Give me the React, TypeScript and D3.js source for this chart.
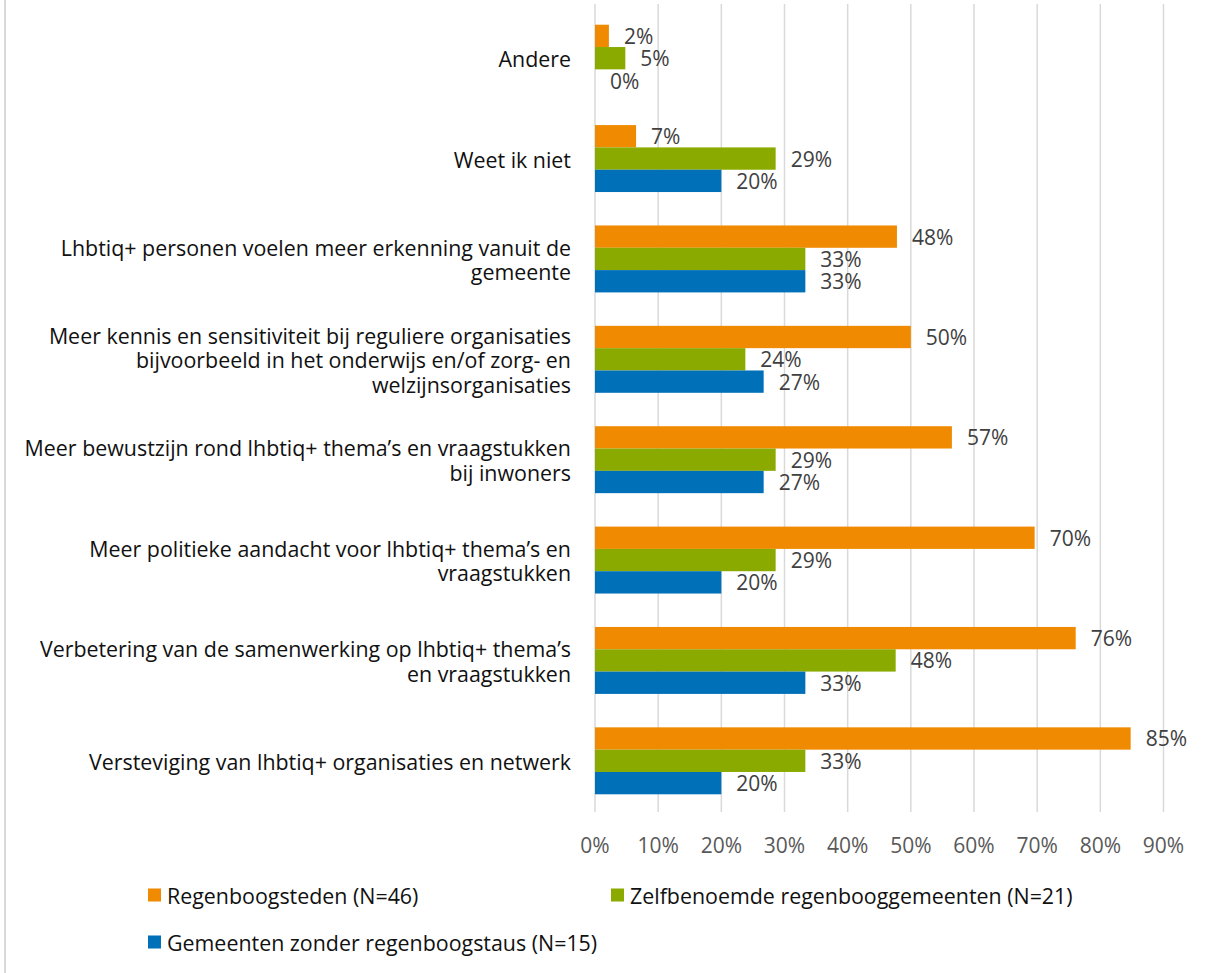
import React from "react";
import * as d3 from "d3";

const categories: string[][] = [
  ["Andere"],
  ["Weet ik niet"],
  ["Lhbtiq+ personen voelen meer erkenning vanuit de", "gemeente"],
  ["Meer kennis en sensitiviteit bij reguliere organisaties", "bijvoorbeeld in het onderwijs en/of zorg- en", "welzijnsorganisaties"],
  ["Meer bewustzijn rond lhbtiq+ thema’s en vraagstukken", "bij inwoners"],
  ["Meer politieke aandacht voor lhbtiq+ thema’s en", "vraagstukken"],
  ["Verbetering van de samenwerking op lhbtiq+ thema’s", "en vraagstukken"],
  ["Versteviging van lhbtiq+ organisaties en netwerk"],
];

const seriesNames = [
  "Regenboogsteden (N=46)",
  "Zelfbenoemde regenbooggemeenten (N=21)",
  "Gemeenten zonder regenboogstaus (N=15)",
];
const seriesColors = ["#F08A00", "#8AAA00", "#0070B8"];

const regenboogsteden = [2.2, 6.5, 47.8, 50.0, 56.5, 69.6, 76.1, 84.8];
const zelfbenoemd = [4.8, 28.6, 33.3, 23.8, 28.6, 28.6, 47.6, 33.3];
const zonderStatus = [0, 20.0, 33.3, 26.7, 26.7, 20.0, 33.3, 20.0];
const seriesValues = [regenboogsteden, zelfbenoemd, zonderStatus];

const xTicks = [0, 10, 20, 30, 40, 50, 60, 70, 80, 90];

const FONT = "'Open Sans', 'Noto Sans', sans-serif";

export default function App() {
  const W = 1210;
  const H = 973;
  const x = d3.scaleLinear().domain([0, 90]).range([595, 1163.5]);
  const catKeys = categories.map((_, i) => String(i));
  const y = d3
    .scaleBand<string>()
    .domain(catKeys)
    .range([8, 811])
    .paddingInner(0.333)
    .paddingOuter(0.1665);
  const ySub = d3
    .scaleBand<string>()
    .domain(["0", "1", "2"])
    .range([0, y.bandwidth()]);
  const lineH = 24.5;
  const fs = 21.4;
  const fsNum = 21;

  return (
    <div style={{ position: "absolute", left: 0, top: 0 }}>
      <svg width={W} height={H} style={{ display: "block", background: "#fff" }}>
        <line x1={5} x2={5} y1={0} y2={H} stroke="#d9d9d9" strokeWidth={2} />
        {xTicks.map((t) => (
          <line
            key={"g" + t}
            x1={x(t)}
            x2={x(t)}
            y1={4}
            y2={812}
            stroke="#d9d9d9"
            strokeWidth={1.5}
          />
        ))}
        {xTicks.map((t) => (
          <text
            key={"t" + t}
            x={x(t)}
            y={845}
            textAnchor="middle"
            dominantBaseline="central"
            fill="#595959"
            fontSize={fsNum}
            fontFamily={FONT}
          >
            {t + "%"}
          </text>
        ))}
        {categories.map((lines, ci) => {
          const y0 = y(String(ci))!;
          const cy = y0 + y.bandwidth() / 2;
          const firstY = cy - ((lines.length - 1) / 2) * lineH;
          return (
            <g key={"c" + ci}>
              <text
                textAnchor="end"
                fill="#111"
                fontSize={fs}
                fontFamily={FONT}
                dominantBaseline="central"
              >
                {lines.map((ln, li) => (
                  <tspan key={li} x={571} y={firstY + li * lineH}>
                    {ln}
                  </tspan>
                ))}
              </text>
              {seriesValues.map((vals, si) => {
                const by = y0 + ySub(String(si))!;
                const bh = ySub.bandwidth();
                const v = vals[ci];
                return (
                  <g key={si}>
                    <rect
                      x={x(0)}
                      y={by}
                      width={x(v) - x(0)}
                      height={bh}
                      fill={seriesColors[si]}
                    />
                    <text
                      x={x(v) + 15}
                      y={by + bh / 2}
                      dominantBaseline="central"
                      fill="#404040"
                      fontSize={fsNum}
                      fontFamily={FONT}
                    >
                      {Math.round(v) + "%"}
                    </text>
                  </g>
                );
              })}
            </g>
          );
        })}
        {seriesNames.map((name, i) => {
          const lx = i === 1 ? 611 : 148;
          const ly = i === 2 ? 942 : 895;
          return (
            <g key={"l" + i}>
              <rect x={lx} y={ly - 6.5} width={13} height={13} fill={seriesColors[i]} />
              <text
                x={lx + 19}
                y={ly}
                dominantBaseline="central"
                fill="#111"
                fontSize={fs}
                fontFamily={FONT}
              >
                {name}
              </text>
            </g>
          );
        })}
      </svg>
    </div>
  );
}
